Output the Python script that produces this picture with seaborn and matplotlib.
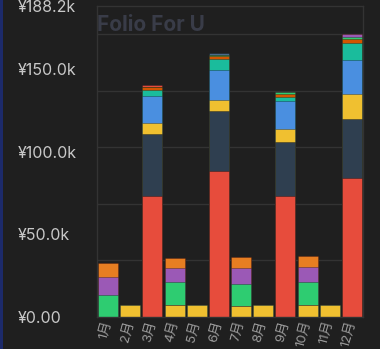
import matplotlib
matplotlib.use("Agg")
import matplotlib.pyplot as plt
import numpy as np
import pandas as pd
import seaborn as sns
from matplotlib.ticker import FixedLocator, FuncFormatter
from matplotlib.patches import Rectangle

# ---- data (yen) ----
months = ["1月", "2月", "3月", "4月", "5月", "6月", "7月", "8月", "9月", "10月", "11月", "12月"]
red_vals    = [0, 0, 73500, 0, 0, 88500, 0, 0, 73500, 0, 0, 84300]
dark_vals   = [0, 0, 37200, 0, 0, 35900, 0, 0, 32700, 0, 0, 35300]
yellow_vals = [0, 7300, 6700, 7300, 7300, 7100, 6700, 7300, 7300, 7300, 7300, 15200]
blue_vals   = [0, 0, 16100, 0, 0, 18200, 0, 0, 17400, 0, 0, 20600]
teal_vals   = [0, 0, 4100, 0, 0, 6500, 0, 0, 2000, 0, 0, 10500]
dorange_vals= [0, 0, 1600, 0, 0, 1600, 0, 0, 2000, 0, 0, 2600]
green_vals  = [13600, 0, 0, 14100, 0, 1000, 13300, 0, 1200, 13800, 0, 1000]
purple_vals = [10700, 0, 0, 8100, 0, 0, 9900, 0, 0, 9100, 0, 1600]
orange_vals = [8100, 0, 0, 6500, 0, 0, 6700, 0, 0, 6500, 0, 0]
red2_vals   = [0, 0, 1400, 0, 0, 0, 0, 0, 0, 0, 0, 0]
slate_vals  = [0, 0, 0, 0, 0, 1000, 0, 0, 0, 0, 0, 0]

layers = [red_vals, dark_vals, yellow_vals, blue_vals, teal_vals, dorange_vals,
          green_vals, purple_vals, orange_vals, red2_vals, slate_vals]
colors = ["#e74c3c", "#2f3f50", "#f0c030", "#4a8fe0", "#1abc9c", "#d35400",
          "#2ecc71", "#9b59b6", "#e67e22", "#e74c3c", "#4a6a8a"]

title_text = "Folio For U"
title_color = "#393c48"
bg = "#1f1f1f"

sns.set_theme(style="dark")
plt.rcParams["font.family"] = ["Inter", "Noto Sans CJK SC", "DejaVu Sans"]

fig = plt.figure(figsize=(3.8, 3.49), dpi=100, facecolor=bg)
ax = fig.add_subplot(111)
fig.subplots_adjust(left=97 / 380, right=363 / 380, bottom=1 - 317 / 349, top=1 - 6 / 349)
ax.set_facecolor(bg)

cum = np.cumsum(np.array(layers, dtype=float), axis=0)
for i in range(len(layers) - 1, -1, -1):
    sns.barplot(x=months, y=cum[i], color=colors[i], saturation=1, width=0.9,
                errorbar=None, edgecolor=(0, 0, 0, 0.35), linewidth=0.6, ax=ax,
                order=months)

total_max = cum[-1].max()
ymax = total_max * 1.1
ax.set_ylim(0, ymax)
ax.set_xlim(-0.5, len(months) - 0.5)

major = [0, 50000, 100000, 150000, ymax]
ax.yaxis.set_major_locator(FixedLocator(major))
ax.yaxis.set_minor_locator(FixedLocator([total_max / 5 * k for k in range(1, 6)]))

def fmt(v, pos):
    if v == 0:
        return "¥0.00"
    return f"¥{v / 1000:.1f}k"

ax.yaxis.set_major_formatter(FuncFormatter(fmt))
ax.grid(False)
ax.yaxis.grid(True, which="minor", color="#333333", linewidth=1)
ax.set_axisbelow(True)
ax.tick_params(axis="y", which="both", length=0, colors="#c8c8c8", labelsize=11.5,
               pad=79 * 72 / 100)
for lab in ax.get_yticklabels():
    lab.set_horizontalalignment("left")
ax.tick_params(axis="x", length=0, colors="#9a9a9a", labelsize=9.5, pad=3)
plt.setp(ax.get_xticklabels(), rotation=75, ha="right", va="center",
         rotation_mode="anchor")
ax.set_xlabel("")
ax.set_ylabel("")

for s in ax.spines.values():
    s.set_visible(True)
    s.set_color("#333333")
    s.set_linewidth(1)

ax.text(0.0, (317 - 31) / 311, title_text, transform=ax.transAxes, ha="left",
        va="baseline", fontsize=15, fontweight="bold", color=title_color)

fig.patches.append(Rectangle((0, 0), 2.5 / 380, 1, transform=fig.transFigure,
                             facecolor="#1c2a6a", edgecolor="none"))

fig.savefig("out.png", dpi=100, facecolor=bg)
